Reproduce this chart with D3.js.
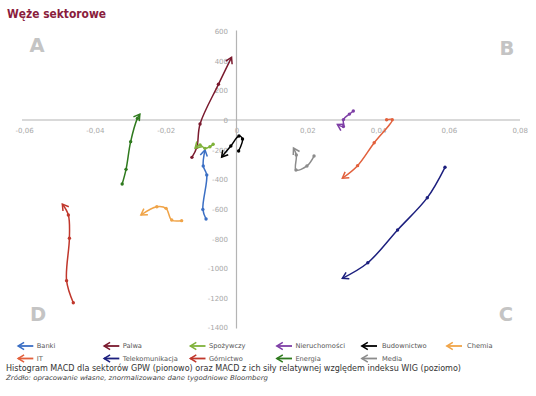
<!DOCTYPE html>
<html><head><meta charset="utf-8">
<script src="https://cdn.jsdelivr.net/npm/d3@7"></script>
<style>
body{margin:0;background:#fff}
svg{display:block}
text{font-family:"DejaVu Sans",Verdana,sans-serif}
</style>
</head><body>
<svg id="c" width="536" height="396"></svg>
<script>
// ---- data ----
const xTicks = [-0.06, -0.04, -0.02, 0, 0.02, 0.04, 0.06, 0.08];
const xTickLabels = ["-0,06", "-0,04", "-0,02", "0", "0,02", "0,04", "0,06", "0,08"];
const yTicks = [600, 400, 200, 0, -200, -400, -600, -800, -1000, -1200, -1400];
const yTickLabels = ["600", "400", "200", "0", "-200", "-400", "-600", "-800", "-1000", "-1200", "-1400"];

const sectors = ["Banki", "Palwa", "Spożywczy", "Nieruchomości", "Budownictwo", "Chemia",
                 "IT", "Telekomunikacja", "Górnictwo", "Energia", "Media"];
const colors = ["#3b6fc4", "#7a1a2e", "#7fb23a", "#7e3fa6", "#000000", "#f0a448",
                "#e2603c", "#1c1f7e", "#c0372c", "#2f7a1e", "#8c8c8c"];

// each series: [relative-strength MACD (x), MACD histogram (y)], oldest -> newest (arrow)
const banki         = [[-0.0086, -668], [-0.0095, -603], [-0.0084, -371], [-0.0094, -310], [-0.0089, -202]];
const palwa         = [[-0.0126, -252], [-0.0112, -184], [-0.0103, -27], [-0.0051, 241], [-0.0014, 423]];
const spozywczy     = [[-0.0066, -164], [-0.0075, -180], [-0.0089, -191], [-0.0103, -169], [-0.0117, -191]];
const nieruchomosci = [[0.0330, 61], [0.0319, 40], [0.0302, 3], [0.0302, -44], [0.0285, -30]];
const budownictwo   = [[0.0006, -209], [0.0017, -128], [0.0007, -108], [-0.0016, -175], [-0.0042, -250]];
const chemia        = [[-0.0155, -679], [-0.0183, -675], [-0.0199, -596], [-0.0225, -585], [-0.0270, -641]];
const it            = [[0.0424, 2], [0.0440, 2], [0.0389, -153], [0.0342, -308], [0.0299, -393]];
const telekomunikacja = [[0.0589, -319], [0.0539, -524], [0.0455, -742], [0.0371, -963], [0.0299, -1068]];
const gornictwo     = [[-0.0461, -1233], [-0.0480, -1084], [-0.0472, -798], [-0.0475, -641], [-0.0492, -567]];
const energia       = [[-0.0323, -432], [-0.0312, -333], [-0.0299, -146], [-0.0280, 11], [-0.0273, 40]];
const media         = [[0.0219, -243], [0.0199, -310], [0.0168, -337], [0.0169, -236], [0.0161, -189]];

const seriesData = [banki, palwa, spozywczy, nieruchomosci, budownictwo, chemia,
                    it, telekomunikacja, gornictwo, energia, media];

// ---- layout ----
const svg = d3.select("#c");
const x = d3.scaleLinear().domain([-0.06, 0.08]).range([24.1, 519.7]);
const y = d3.scaleLinear().domain([600, -1400]).range([31.1, 327.5]);

// title
svg.append("text").attr("x", 7).attr("y", 17.5)
  .attr("font-size", 11.6).attr("font-weight", "bold").attr("fill", "#8a1d3d")
  .attr("textLength", 99).attr("lengthAdjust", "spacingAndGlyphs")
  .text("Węże sektorowe");

// quadrant letters
const quad = [["A", 37, 52], ["B", 507, 55], ["C", 506, 321], ["D", 38, 321]];
svg.selectAll("text.q").data(quad).join("text").attr("class", "q")
  .attr("x", d => d[1]).attr("y", d => d[2]).attr("text-anchor", "middle")
  .attr("font-size", 19.5).attr("font-weight", "bold").attr("fill", "#c4c4c4")
  .text(d => d[0]);

// axes
const axisColor = "#b4b4b4";
const xAxis = svg.append("g").attr("transform", `translate(0,${y(0)})`)
  .call(d3.axisBottom(x).tickValues(xTicks).tickSize(0).tickPadding(0)
    .tickFormat((d, i) => xTickLabels[i]));
xAxis.select(".domain").remove();
xAxis.append("line").attr("x1", 22).attr("x2", 520).attr("stroke", axisColor).attr("stroke-width", 1.2);
xAxis.selectAll(".tick text").attr("y", 12.5).attr("dy", 0)
  .attr("fill", "#a8a8a8").attr("font-size", 7).attr("font-family", '"DejaVu Sans",Verdana,sans-serif');

const yAxis = svg.append("g").attr("transform", `translate(${x(0)},0)`)
  .call(d3.axisLeft(y).tickValues(yTicks).tickSize(0).tickPadding(0)
    .tickFormat((d, i) => yTickLabels[i]));
yAxis.select(".domain").remove();
yAxis.append("line").attr("y1", 30.5).attr("y2", 328.5).attr("stroke", axisColor).attr("stroke-width", 1.2);
yAxis.selectAll(".tick text").attr("x", -8.5).attr("dy", "0.35em")
  .attr("fill", "#a8a8a8").attr("font-size", 7).attr("font-family", '"DejaVu Sans",Verdana,sans-serif');

// arrow markers
const defs = svg.append("defs");
colors.forEach((c, i) => {
  defs.append("marker").attr("id", "arr" + i)
    .attr("viewBox", "-8 -5 10 10").attr("refX", 0).attr("refY", 0)
    .attr("markerWidth", 10).attr("markerHeight", 10)
    .attr("markerUnits", "userSpaceOnUse").attr("orient", "auto")
    .append("path").attr("d", "M-6,-3.6 L0,0 L-6,3.6")
    .attr("fill", "none").attr("stroke", c).attr("stroke-width", 1.5)
    .attr("stroke-linejoin", "miter");
});

// series
const line = d3.line().x(d => x(d[0])).y(d => y(d[1])).curve(d3.curveCatmullRom.alpha(0.5));
const g = svg.append("g");
seriesData.forEach((s, i) => {
  g.append("path").attr("d", line(s)).attr("fill", "none")
    .attr("stroke", colors[i]).attr("stroke-width", 1.5)
    .attr("marker-end", `url(#arr${i})`);
  g.selectAll(null).data(s.slice(0, -1)).join("circle")
    .attr("cx", d => x(d[0])).attr("cy", d => y(d[1])).attr("r", 1.7)
    .attr("fill", colors[i]);
});

// legend
const legX = [17.3, 103.3, 189.5, 276, 361, 446];
const legY = [346, 358.5];
const leg = svg.selectAll("g.leg").data(sectors).join("g").attr("class", "leg")
  .attr("transform", (d, i) => `translate(${legX[i % 6]},${legY[Math.floor(i / 6)]})`);
leg.append("line").attr("x1", 16).attr("x2", 0.8).attr("y1", 0).attr("y2", 0)
  .attr("stroke", (d, i) => colors[i]).attr("stroke-width", 1.8)
  .attr("marker-end", (d, i) => `url(#arr${i})`);
leg.append("text").attr("x", (d, i) => (i % 6 >= 4 ? 21 : 19.4)).attr("y", 2.4)
  .attr("font-size", 6.7).attr("fill", "#555").text(d => d);

// caption
svg.append("text").attr("x", 6).attr("y", 371.2)
  .attr("font-size", 8.2).attr("fill", "#333")
  .attr("textLength", 455).attr("lengthAdjust", "spacingAndGlyphs")
  .text("Histogram MACD dla sektorów GPW (pionowo) oraz MACD z ich siły relatywnej względem indeksu WIG (poziomo)");
svg.append("text").attr("x", 6).attr("y", 379.5)
  .attr("font-size", 6.6).attr("font-style", "italic").attr("fill", "#444")
  .attr("textLength", 262).attr("lengthAdjust", "spacingAndGlyphs")
  .text("Źródło: opracowanie własne, znormalizowane dane tygodniowe Bloomberg");
</script>
</body></html>
